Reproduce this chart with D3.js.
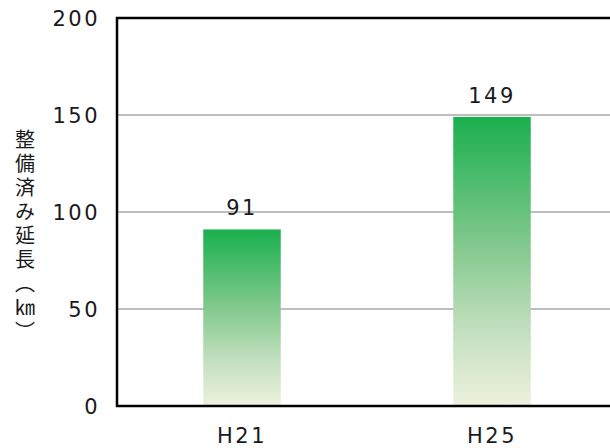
<!DOCTYPE html>
<html>
<head>
<meta charset="utf-8">
<script src="https://cdn.jsdelivr.net/npm/d3@7"></script>
<style>
  html, body { margin: 0; padding: 0; background: #fff; }
  svg { display: block; }
</style>
</head>
<body>
<div id="chart"></div>
<script>
// Data
const categories = ["H21", "H25"];
const values = [91, 149];
const yTicks = [0, 50, 100, 150, 200];
const yTitle = "整備済み延長（㎞）";

// Dimensions
const width = 610;
const height = 448;
const margin = { top: 18, right: 0, bottom: 42, left: 117 };

const numFont = "'DejaVu Sans', 'Noto Sans', sans-serif";
const cjkFont = "'Noto Sans CJK JP', sans-serif";

const svg = d3
  .select("#chart")
  .append("svg")
  .attr("width", width)
  .attr("height", height);

// Scales
const y = d3.scaleLinear().domain([0, 200]).range([height - margin.bottom, margin.top]);
const x = d3
  .scaleBand()
  .domain(categories)
  .range([margin.left, margin.left + 500])
  .paddingInner(0.69)
  .paddingOuter(0.345);

// Bar gradient
const grad = svg
  .append("defs")
  .append("linearGradient")
  .attr("id", "barGrad")
  .attr("x1", 0)
  .attr("y1", 0)
  .attr("x2", 0)
  .attr("y2", 1);
grad.append("stop").attr("offset", "0%").attr("stop-color", "#1ab04e");
grad.append("stop").attr("offset", "45%").attr("stop-color", "#84c98e");
grad.append("stop").attr("offset", "75%").attr("stop-color", "#c4e0c0");
grad.append("stop").attr("offset", "100%").attr("stop-color", "#eef1de");

// Gridlines
svg
  .selectAll(".grid")
  .data(yTicks.filter((d) => d > 0 && d < 200))
  .enter()
  .append("line")
  .attr("class", "grid")
  .attr("x1", margin.left)
  .attr("x2", width)
  .attr("y1", (d) => y(d))
  .attr("y2", (d) => y(d))
  .attr("stroke", "#a8a8a8")
  .attr("stroke-width", 1.5);

// Bars
svg
  .selectAll(".bar")
  .data(values)
  .enter()
  .append("rect")
  .attr("class", "bar")
  .attr("x", (d, i) => x(categories[i]))
  .attr("y", (d) => y(d))
  .attr("width", x.bandwidth())
  .attr("height", (d) => y(0) - y(d))
  .attr("fill", "url(#barGrad)");

// Frame (left, top, bottom)
svg
  .append("path")
  .attr("d", `M${width},${y(200)} H${margin.left} V${y(0)} H${width}`)
  .attr("fill", "none")
  .attr("stroke", "#000")
  .attr("stroke-width", 2.5);

// Y tick labels
svg
  .selectAll(".ytick")
  .data(yTicks)
  .enter()
  .append("text")
  .attr("class", "ytick")
  .attr("x", 100)
  .attr("y", (d) => y(d))
  .attr("dy", "0.36em")
  .attr("text-anchor", "end")
  .style("font-family", numFont)
  .style("font-size", "21px")
  .style("letter-spacing", "2.5px")
  .style("fill", "#1a1a1a")
  .text((d) => d);

// Value labels
svg
  .selectAll(".val")
  .data(values)
  .enter()
  .append("text")
  .attr("class", "val")
  .attr("x", (d, i) => x(categories[i]) + x.bandwidth() / 2)
  .attr("y", (d) => y(d) - 14)
  .attr("text-anchor", "middle")
  .style("font-family", numFont)
  .style("font-size", "21px")
  .style("letter-spacing", "2.5px")
  .style("fill", "#1a1a1a")
  .text((d) => d);

// X labels
svg
  .selectAll(".xlab")
  .data(categories)
  .enter()
  .append("text")
  .attr("class", "xlab")
  .attr("x", (d) => x(d) + x.bandwidth() / 2)
  .attr("y", height - 5)
  .attr("text-anchor", "middle")
  .style("font-family", numFont)
  .style("font-size", "21px")
  .style("letter-spacing", "2.5px")
  .style("fill", "#1a1a1a")
  .text((d) => d);

// Y title (vertical)
svg
  .append("text")
  .attr("x", 25)
  .attr("y", 237)
  .attr("text-anchor", "middle")
  .style("writing-mode", "vertical-rl")
  .style("font-family", cjkFont)
  .style("font-size", "20px")
  .style("letter-spacing", "4px")
  .style("fill", "#1a1a1a")
  .text(yTitle);
</script>
</body>
</html>
